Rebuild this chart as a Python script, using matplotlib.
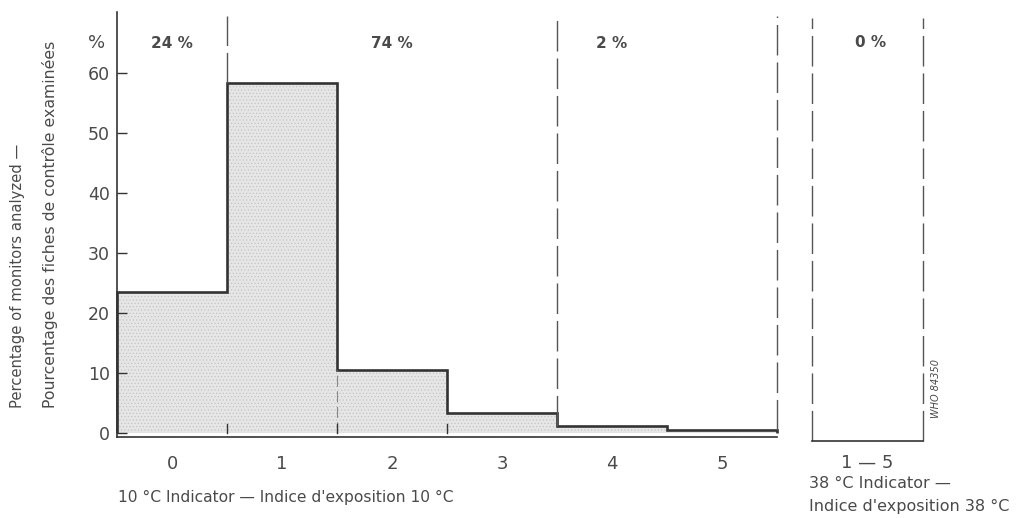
import matplotlib
matplotlib.use('Agg')
import matplotlib.pyplot as plt
import numpy as np

plt.rcParams['font.family'] = ['DejaVu Sans']
plt.rcParams['hatch.color'] = '#b8b8b8'
plt.rcParams['hatch.linewidth'] = 0.5

# 10 °C indicator: exposure index 0..5, percentage of monitors
index_10 = [0, 1, 2, 3, 4, 5]
pct_10 = [23.6, 58.4, 10.5, 3.4, 1.2, 0.5]
# group shares written above the plot
group_labels = ['24 %', '74 %', '2 %']
group_pos = [0, 2, 4]
group_bounds = [0.5, 3.5, 5.5]
# 38 °C indicator
index_38 = ['1 — 5']
pct_38 = [0.0]
group_38 = '0 %'

ink = '#333333'
txt = '#4a4a4a'

fig = plt.figure(figsize=(10.23, 5.18), dpi=100)
W, H = 1023, 518

# main panel
ax = fig.add_axes([117 / W, 1 - 437 / H, (777 - 117) / W, (437 - 12) / H])
edges = np.arange(len(index_10) + 1) - 0.5
ax.stairs(pct_10, edges, baseline=0, fill=True, facecolor='#e6e6e6',
          hatch='.....', edgecolor='#c4c4c4', linewidth=0)
ax.stairs(pct_10, edges, baseline=0, color=ink, linewidth=1.9, clip_on=False)

ax.set_xlim(-0.5, 5.5)
ax.set_ylim(-0.6, 70.2)
ytop = 69.6

# dashed group boundaries
for b in group_bounds:
    i = int(b + 0.5)
    lo = pct_10[i] if i < len(pct_10) else pct_10[-1]
    ax.plot([b, b], [lo, ytop], color='#555555', lw=1.0, dashes=(22, 5),
            clip_on=False)
ax.plot([1.5, 1.5], [0, pct_10[2]], color='#888888', lw=0.8, dashes=(10, 4))
# small marks at the bin edges
for b in [0.5, 1.5, 2.5]:
    ax.plot([b, b], [0, 1.6], color=ink, lw=1.0)

for lab, xp in zip(group_labels, group_pos):
    ax.text(xp, 65, lab, ha='center', va='center', fontsize=11,
            fontweight='bold', color=txt)

for s in ['top', 'right']:
    ax.spines[s].set_visible(False)
for s in ['left', 'bottom']:
    ax.spines[s].set_color(ink)
    ax.spines[s].set_linewidth(1.2)

ax.set_yticks([0, 10, 20, 30, 40, 50, 60])
ax.set_xticks(index_10)
ax.tick_params(axis='y', direction='in', length=7, width=1, color=ink,
               labelsize=12.5, labelcolor=txt, pad=5)
ax.tick_params(axis='x', length=0, labelsize=13, labelcolor=txt, pad=13)

fig.text(97 / W, 1 - 43 / H, '%', ha='center', va='center', fontsize=13, color=txt)
fig.text(118 / W, 1 - 497 / H, '10 °C Indicator — Indice d\'exposition 10 °C',
         ha='left', va='center', fontsize=11.2, color=txt)
fig.text(18 / W, 1 - 408 / H, 'Percentage of monitors analyzed —',
         rotation=90, ha='center', va='bottom', fontsize=10.6, color=txt)
fig.text(50 / W, 1 - 408 / H, 'Pourcentage des fiches de contrôle examinées',
         rotation=90, ha='center', va='bottom', fontsize=11.3, color=txt)

# 38 °C panel
ax2 = fig.add_axes([812 / W, 1 - 441 / H, (923 - 812) / W, (441 - 18) / H])
ax2.set_xlim(0, 1)
ax2.set_ylim(0, 1)
ax2.bar([0.5], pct_38, width=1.0, color='#e6e6e6')
for xb in [0, 1]:
    ax2.plot([xb, xb], [0, 1], color='#555555', lw=1.0, dashes=(22, 5),
             clip_on=False)
for s in ['top', 'right', 'left']:
    ax2.spines[s].set_visible(False)
ax2.spines['bottom'].set_color(ink)
ax2.spines['bottom'].set_linewidth(1.2)
ax2.set_yticks([])
ax2.set_xticks([0.5])
ax2.set_xticklabels(index_38)
ax2.tick_params(axis='x', length=0, labelsize=13, labelcolor=txt, pad=9)
ax2.text(0.53, 1 - (43 - 18) / (441 - 18), group_38, ha='center', va='center',
         fontsize=11, fontweight='bold', color=txt, transform=ax2.transAxes)

fig.text(809 / W, 1 - 484 / H, '38 °C Indicator —', ha='left', va='center',
         fontsize=11.5, color=txt)
fig.text(809 / W, 1 - 506 / H, 'Indice d\'exposition 38 °C', ha='left',
         va='center', fontsize=11.5, color=txt)
fig.text(936 / W, 1 - 388 / H, 'WHO 84350', rotation=90, ha='center', va='center',
         fontsize=7, style='italic', color=txt)

fig.savefig('out.png', dpi=100)
